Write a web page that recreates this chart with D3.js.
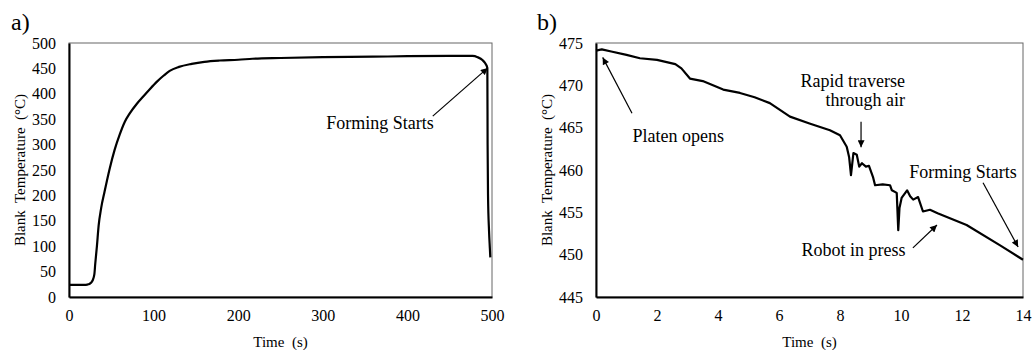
<!DOCTYPE html>
<html><head><meta charset="utf-8">
<script src="https://cdn.jsdelivr.net/npm/d3@7"></script>
<style>
body{margin:0;background:#fff;}
svg{display:block;font-family:"Liberation Serif","Times New Roman",serif;}
text{white-space:pre;}
</style></head>
<body><svg id="c" width="1036" height="350"></svg>
<script>
// Panel a data (Time s, Blank Temperature °C)
const timeA = [0,10,20,23,26,28,30,31,33,35,38,42,48,54,60,66,72,80,88,96,104,112,119,130,145,160,178,200,217,250,300,359,400,450,477,483,489,492,494.5,494.8,495.3,496.5,497.5,498];
const tempA = [24,24,24,25,28,33,45,65,100,140,175,207,252,290,320,345,362,380,395,410,424,436,445,453,459,463,465.5,467,469,470.5,472,473,474,474.5,474.5,472,466,460,451,300,200,130,95,78];
// Panel b data
const timeB = [0,0.19,0.5,1.0,1.44,2.0,2.6,2.8,3.08,3.5,4.17,4.72,5.2,5.7,6.36,7.0,7.67,8.0,8.22,8.3,8.36,8.44,8.55,8.63,8.72,8.85,8.95,9.08,9.15,9.4,9.64,9.7,9.86,9.91,9.95,10.02,10.2,10.3,10.4,10.56,10.72,10.95,11.2,12.15,13.25,14.0];
const tempB = [474.1,474.25,474.0,473.6,473.2,473.0,472.5,472.0,470.8,470.5,469.5,469.1,468.6,467.9,466.3,465.5,464.7,464.1,462.75,461.5,459.4,462.0,461.8,460.4,460.8,460.4,460.5,459.2,458.2,458.3,458.2,457.6,457.3,452.9,455.5,456.7,457.6,456.9,456.5,456.8,455.1,455.3,454.9,453.5,451.1,449.4];

const ticksA_x = [0,100,200,300,400,500];
const ticksA_y = [0,50,100,150,200,250,300,350,400,450,500];
const ticksB_x = [0,2,4,6,8,10,12,14];
const ticksB_y = [445,450,455,460,465,470,475];

// Annotations in data coordinates
const annA = [{lines:["Forming Starts"], tx:367.6, ty:342.5, anchor:"middle", from:[430,356], to:[495,451]}];
const annB = [
  {lines:["Platen opens"], tx:2.70, ty:464.1, anchor:"middle", from:[1.18,466.7], to:[0.22,473.3]},
  {lines:["Rapid traverse","through air"], tx:10.13, ty:470.5, ty2:468.3, anchor:"end", from:[8.69,465.7], to:[8.69,462.7]},
  {lines:["Forming Starts"], tx:12.03, ty:459.8, anchor:"middle", from:[12.69,458.5], to:[13.84,450.9]},
  {lines:["Robot in press"], tx:8.44, ty:450.55, anchor:"middle", from:[10.39,450.8], to:[11.18,453.5]}
];

const svg = d3.select("#c");
svg.append("defs").append("marker").attr("id","ah").attr("viewBox","0 0 10 10")
  .attr("refX",10).attr("refY",5).attr("markerWidth",9).attr("markerHeight",7)
  .attr("markerUnits","userSpaceOnUse").attr("orient","auto")
  .append("path").attr("d","M0,0L10,5L0,10z").attr("fill","#000");

function panel(o){
  const x = d3.scaleLinear().domain(o.xd).range([o.l,o.r]);
  const y = d3.scaleLinear().domain(o.yd).range([o.b,o.t]);
  const g = svg.append("g");
  g.append("rect").attr("x",o.l).attr("y",o.t).attr("width",o.r-o.l).attr("height",o.b-o.t)
    .attr("fill","none").attr("stroke","#666").attr("stroke-width",1);
  const ax = g.append("g").attr("transform",`translate(0,${o.b})`)
    .call(d3.axisBottom(x).tickValues(o.xt).tickSize(0).tickPadding(13).tickFormat(d3.format("d")));
  const ay = g.append("g").attr("transform",`translate(${o.l},0)`)
    .call(d3.axisLeft(y).tickValues(o.yt).tickSize(0).tickPadding(13).tickFormat(d3.format("d")));
  [ax,ay].forEach(a=>{
    a.attr("font-family","Liberation Serif");
    a.select(".domain").attr("stroke","#000").attr("stroke-width",2);
    a.selectAll("text").attr("font-size",16).attr("fill","#000").attr("font-family","Liberation Serif");
  });
  const data = o.xs.map((v,i)=>[v,o.ys[i]]);
  g.append("path").datum(data).attr("fill","none").attr("stroke","#000").attr("stroke-width",2.2)
    .attr("stroke-linejoin","round")
    .attr("d",d3.line().curve(o.curve).x(d=>x(d[0])).y(d=>y(d[1])));
  g.append("text").attr("x",(o.l+o.r)/2).attr("y",347).attr("text-anchor","middle")
    .attr("font-size",15).text("Time  (s)");
  g.append("text").attr("transform",`translate(${o.yl},${(o.t+o.b)/2}) rotate(-90)`)
    .attr("text-anchor","middle").attr("font-size",15).text("Blank  Temperature  (°C)");
  g.append("text").attr("x",o.lx).attr("y",30).attr("font-size",24).text(o.label);
  o.ann.forEach(a=>{
    g.append("text").attr("x",x(a.tx)).attr("y",y(a.ty)).attr("dy","0.35em")
      .attr("text-anchor",a.anchor).attr("font-size",18).text(a.lines[0]);
    if(a.lines[1]) g.append("text").attr("x",x(a.tx)).attr("y",y(a.ty2)).attr("dy","0.35em")
      .attr("text-anchor",a.anchor).attr("font-size",18).text(a.lines[1]);
    g.append("line").attr("x1",x(a.from[0])).attr("y1",y(a.from[1]))
      .attr("x2",x(a.to[0])).attr("y2",y(a.to[1])).attr("stroke","#000").attr("stroke-width",1.2)
      .attr("marker-end","url(#ah)");
  });
}

panel({xd:[0,500],yd:[0,500],l:69,r:492,t:43,b:297,xt:ticksA_x,yt:ticksA_y,xs:timeA,ys:tempA,yl:25,lx:11,label:"a)",ann:annA,curve:d3.curveMonotoneX});
panel({xd:[0,14],yd:[445,475],l:596,r:1023,t:43,b:297,xt:ticksB_x,yt:ticksB_y,xs:timeB,ys:tempB,yl:552,lx:537,label:"b)",ann:annB,curve:d3.curveLinear});
</script></body></html>
